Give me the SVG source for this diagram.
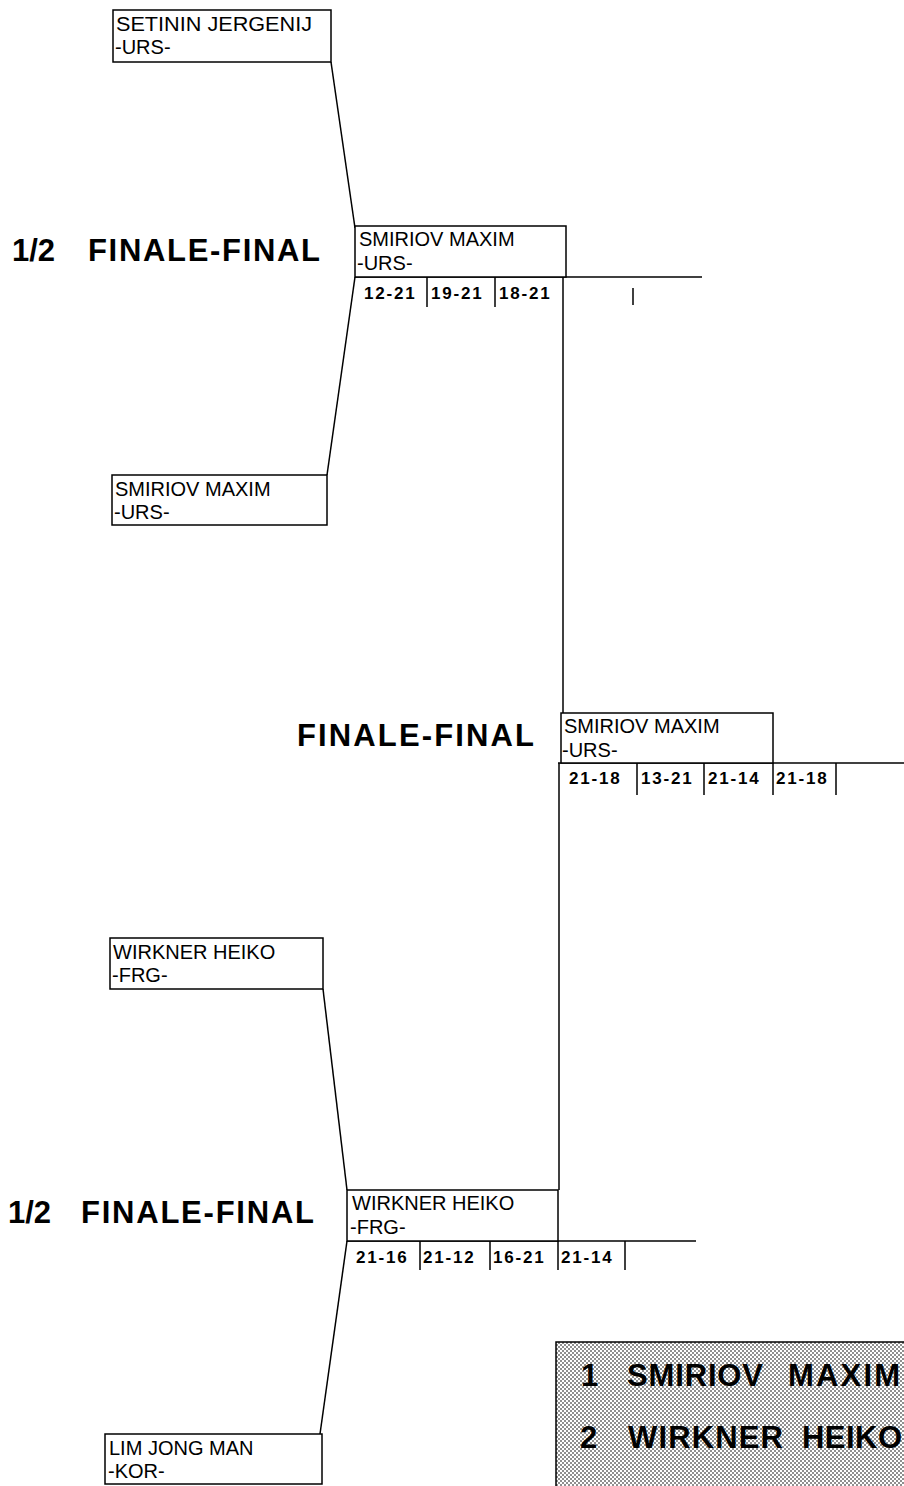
<svg xmlns="http://www.w3.org/2000/svg" width="904" height="1486" viewBox="0 0 904 1486">
<style>
.box{fill:#fff;stroke:#000;stroke-width:1.5}
.ln{stroke:#000;stroke-width:1.5;fill:none}
.nm{font-family:"Liberation Sans",Arial,sans-serif;font-size:20px;fill:#000}
.sc{font-family:"Liberation Sans",Arial,sans-serif;font-size:17px;font-weight:bold;letter-spacing:1.8px;fill:#000}
.hd{font-family:"Liberation Sans",Arial,sans-serif;font-size:31px;font-weight:bold;fill:#000}
.rs{font-family:"Liberation Sans",Arial,sans-serif;font-size:31px;font-weight:bold;fill:#000}
</style>
<defs>
<pattern id="dots" width="4" height="4" patternUnits="userSpaceOnUse">
<rect width="4" height="4" fill="#fff"/>
<circle cx="1" cy="1" r="0.8" fill="#000"/>
<circle cx="3" cy="3" r="0.8" fill="#000"/>
</pattern>
</defs>
<rect width="904" height="1486" fill="#fff"/>

<g id="headings">
<text class="hd" x="12" y="261">1/2</text>
<text class="hd" x="88" y="261" textLength="232" lengthAdjust="spacing">FINALE-FINAL</text>
<text class="hd" x="297" y="746" textLength="237" lengthAdjust="spacing">FINALE-FINAL</text>
<text class="hd" x="8" y="1223">1/2</text>
<text class="hd" x="81" y="1223" textLength="233" lengthAdjust="spacing">FINALE-FINAL</text>
</g>

<g id="connectors">
<line class="ln" x1="331" y1="62" x2="355" y2="228"/>
<line class="ln" x1="327" y1="475" x2="355" y2="277"/>
<line class="ln" x1="355" y1="277" x2="702" y2="277"/>
<line class="ln" x1="427" y1="277" x2="427" y2="307"/>
<line class="ln" x1="495" y1="277" x2="495" y2="307"/>
<line class="ln" x1="563" y1="277" x2="563" y2="713"/>
<line class="ln" x1="633" y1="288" x2="633" y2="305"/>
<line class="ln" x1="558" y1="763" x2="904" y2="763"/>
<line class="ln" x1="637" y1="763" x2="637" y2="795"/>
<line class="ln" x1="704" y1="763" x2="704" y2="795"/>
<line class="ln" x1="773" y1="763" x2="773" y2="795"/>
<line class="ln" x1="836" y1="763" x2="836" y2="795"/>
<line class="ln" x1="559" y1="763" x2="559" y2="1190"/>
<line class="ln" x1="323" y1="989" x2="347" y2="1190"/>
<line class="ln" x1="320" y1="1434" x2="347" y2="1241"/>
<line class="ln" x1="347" y1="1241" x2="696" y2="1241"/>
<line class="ln" x1="420" y1="1241" x2="420" y2="1270"/>
<line class="ln" x1="490" y1="1241" x2="490" y2="1270"/>
<line class="ln" x1="558" y1="1241" x2="558" y2="1270"/>
<line class="ln" x1="625" y1="1241" x2="625" y2="1270"/>
</g>

<g id="node-setinin">
<rect class="box" x="113" y="10" width="218" height="52"/>
<text class="nm" x="116" y="31" textLength="196" lengthAdjust="spacingAndGlyphs">SETININ JERGENIJ</text>
<text class="nm" x="115" y="54">-URS-</text>
</g>

<g id="node-smiriov-semi">
<rect class="box" x="355" y="226" width="211" height="51"/>
<text class="nm" x="359" y="246">SMIRIOV MAXIM</text>
<text class="nm" x="357" y="270">-URS-</text>
<text class="sc" x="364" y="299">12-21</text>
<text class="sc" x="431" y="299">19-21</text>
<text class="sc" x="499" y="299">18-21</text>
</g>

<g id="node-smiriov-r1">
<rect class="box" x="112" y="475" width="215" height="50"/>
<text class="nm" x="115" y="496">SMIRIOV MAXIM</text>
<text class="nm" x="114" y="519">-URS-</text>
</g>

<g id="node-smiriov-final">
<rect class="box" x="561" y="713" width="212" height="50"/>
<text class="nm" x="564" y="733">SMIRIOV MAXIM</text>
<text class="nm" x="562" y="757">-URS-</text>
<text class="sc" x="569" y="784">21-18</text>
<text class="sc" x="641" y="784">13-21</text>
<text class="sc" x="708" y="784">21-14</text>
<text class="sc" x="776" y="784">21-18</text>
</g>

<g id="node-wirkner-r1">
<rect class="box" x="110" y="938" width="213" height="51"/>
<text class="nm" x="113" y="959">WIRKNER HEIKO</text>
<text class="nm" x="112" y="982">-FRG-</text>
</g>

<g id="node-wirkner-semi">
<rect class="box" x="347" y="1190" width="211" height="51"/>
<text class="nm" x="352" y="1210">WIRKNER HEIKO</text>
<text class="nm" x="350" y="1234">-FRG-</text>
<text class="sc" x="356" y="1263">21-16</text>
<text class="sc" x="423" y="1263">21-12</text>
<text class="sc" x="493" y="1263">16-21</text>
<text class="sc" x="561" y="1263">21-14</text>
</g>

<g id="node-lim">
<rect class="box" x="105" y="1434" width="217" height="50"/>
<text class="nm" x="109" y="1455">LIM JONG MAN</text>
<text class="nm" x="108" y="1478">-KOR-</text>
</g>

<g id="results">
<rect x="556" y="1342" width="360" height="150" fill="url(#dots)" stroke="#000" stroke-width="1.5"/>
<text class="rs" x="581" y="1386">1</text>
<text class="rs" x="627" y="1386" textLength="136" lengthAdjust="spacing">SMIRIOV</text>
<text class="rs" x="788" y="1386" textLength="112" lengthAdjust="spacing">MAXIM</text>
<text class="rs" x="580" y="1448">2</text>
<text class="rs" x="628" y="1448" textLength="155" lengthAdjust="spacing">WIRKNER</text>
<text class="rs" x="802" y="1448" textLength="100" lengthAdjust="spacing">HEIKO</text>
</g>
</svg>
